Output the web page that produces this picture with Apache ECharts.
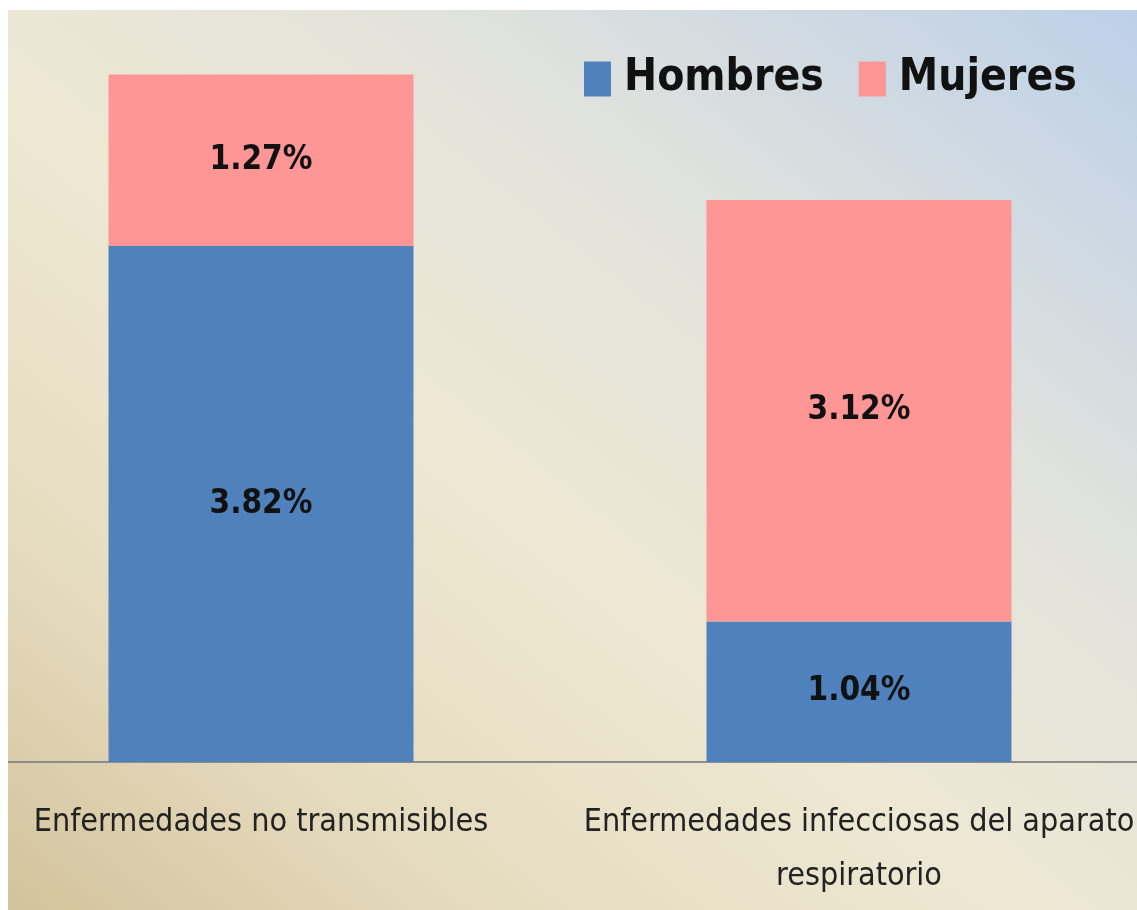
<!DOCTYPE html>
<html>
<head>
<meta charset="utf-8">
<script src="https://cdn.jsdelivr.net/npm/echarts@6/dist/echarts.min.js"></script>
<style>
html,body{margin:0;padding:0;background:#fff;width:1137px;height:910px;overflow:hidden;}
#wrap{position:absolute;left:8px;top:10px;width:1129px;height:900px;overflow:hidden;
background:linear-gradient(to top right,#d3c39c 0%,#e6dcc0 22%,#eee8d3 45%,#e2e3dc 68%,#bdd0e8 100%);}
#chart{position:absolute;left:-46px;top:0;width:1196px;height:900px;}
</style>
</head>
<body>
<div id="wrap"><div id="chart"></div></div>
<script>
const categories = ['Enfermedades no transmisibles', 'Enfermedades infecciosas del aparato\nrespiratorio'];
const hombres = [3.82, 1.04];
const mujeres = [1.27, 3.12];
const seriesNames = ['Hombres', 'Mujeres'];

const FONT = "'DejaVu Sans Condensed','DejaVu Sans',sans-serif";
const chart = echarts.init(document.getElementById('chart'), null, {renderer:'canvas'});
const lbl = {
  show: true, position: 'inside', color: '#111', fontSize: 33, fontWeight: 'bold', fontFamily: FONT,
  formatter: p => p.value.toFixed(2) + '%'
};
chart.setOption({
  backgroundColor: 'transparent',
  animation: false,
  legend: {
    left: 617, top: 42, itemWidth: 27, itemHeight: 35, itemGap: 35, icon: 'rect',
    textStyle: {fontSize: 44, lineHeight: 35, fontWeight: 'bold', color: '#111', fontFamily: FONT, padding: [0,0,0,8]},
    data: seriesNames
  },
  grid: {left: 0, right: 0, top: 9, bottom: 148, containLabel: false},
  xAxis: {
    type: 'category', data: categories,
    axisLine: {lineStyle: {color: '#8c8c8c', width: 2}},
    axisTick: {show: false},
    axisLabel: {fontSize: 32, color: '#222', fontFamily: FONT, margin: 34, lineHeight: 54, interval: 0}
  },
  yAxis: {type: 'value', min: 0, max: 5.5, show: false, splitLine: {show: false}},
  series: [
    {name: seriesNames[0], type: 'bar', stack: 's', data: hombres, barWidth: 305, itemStyle: {color: '#4F81BD'}, label: lbl},
    {name: seriesNames[1], type: 'bar', stack: 's', data: mujeres, barWidth: 305, itemStyle: {color: '#FF9696'}, label: lbl}
  ]
});
</script>
</body>
</html>
